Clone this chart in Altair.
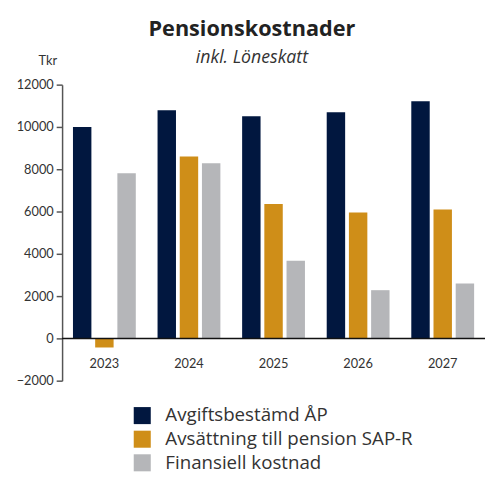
import altair as alt
import pandas as pd

years = ["2023", "2024", "2025", "2026", "2027"]
series = ["Avgiftsbestämd ÅP", "Avsättning till pension SAP-R", "Finansiell kostnad"]
avgift = [10000, 10790, 10510, 10700, 11210]
avsattning = [-430, 8600, 6360, 5950, 6090]
finansiell = [7810, 8280, 3670, 2280, 2600]
colors = ["#01173F", "#CF8E18", "#B5B6B9"]
y_ticks = [-2000, 0, 2000, 4000, 6000, 8000, 10000, 12000]

rows = []
for vals, s in zip([avgift, avsattning, finansiell], series):
    for y, v in zip(years, vals):
        rows.append({"År": y, "Serie": s, "Värde": v})
df = pd.DataFrame(rows)

FONT = "Open Sans"
AFONT = "Lato"

bars = alt.Chart(df).mark_bar().encode(
    x=alt.X("År:N", sort=years, title=None,
            scale=alt.Scale(paddingInner=0, paddingOuter=0),
            axis=alt.Axis(orient="bottom", offset=-43, domain=False, ticks=False,
                          labelAngle=0, labelPadding=20, labelFontSize=13,
                          labelColor="#333333", labelFont=AFONT)),
    xOffset=alt.XOffset("Serie:N", sort=series,
                        scale=alt.Scale(paddingInner=0.17, paddingOuter=0.49)),
    y=alt.Y("Värde:Q", title="Tkr",
            scale=alt.Scale(domain=[-2000, 12000], nice=False),
            axis=alt.Axis(values=y_ticks, grid=False, domainColor="#555555",
                          domainWidth=1.5, tickColor="#555555", tickSize=6,
                          tickWidth=1.5, labelPadding=3, labelFontSize=13,
                          labelColor="#333333", labelFont=AFONT, format="d",
                          titleAngle=0, titleX=-15, titleY=-20,
                          titleAlign="center", titleBaseline="alphabetic",
                          titleFontSize=13, titleFontWeight="normal",
                          titleColor="#333333", titleFont=AFONT)),
    color=alt.Color("Serie:N", sort=series,
                    scale=alt.Scale(domain=series, range=colors),
                    legend=alt.Legend(title=None, orient="none", legendX=72,
                                      legendY=327, symbolType="square",
                                      symbolSize=300, symbolStrokeWidth=0,
                                      labelFontSize=19, labelFont=FONT,
                                      labelColor="#333333", labelOffset=14,
                                      rowPadding=4, labelLimit=400)),
)

zero = alt.Chart(pd.DataFrame({"y": [0]})).mark_rule(color="#111111", strokeWidth=1.5).encode(
    y=alt.Y("y:Q")
)

chart = alt.layer(bars, zero).properties(
    width=430,
    height=301,
    title=alt.TitleParams(
        text="Pensionskostnader",
        subtitle="inkl. Löneskatt",
        anchor="middle",
        dx=-22,
        fontSize=22,
        font=FONT,
        fontWeight="bold",
        color="#222222",
        subtitleFont=FONT,
        subtitleFontSize=18,
        subtitleFontStyle="italic",
        subtitleColor="#333333",
        subtitlePadding=8,
        offset=-13,
    ),
    autosize=alt.AutoSizeParams(type="none"),
    padding={"left": 55, "top": 74, "right": 0, "bottom": 94},
).configure_view(stroke=None)

chart.save("out.html", embed_options={"renderer": "svg", "actions": False})
